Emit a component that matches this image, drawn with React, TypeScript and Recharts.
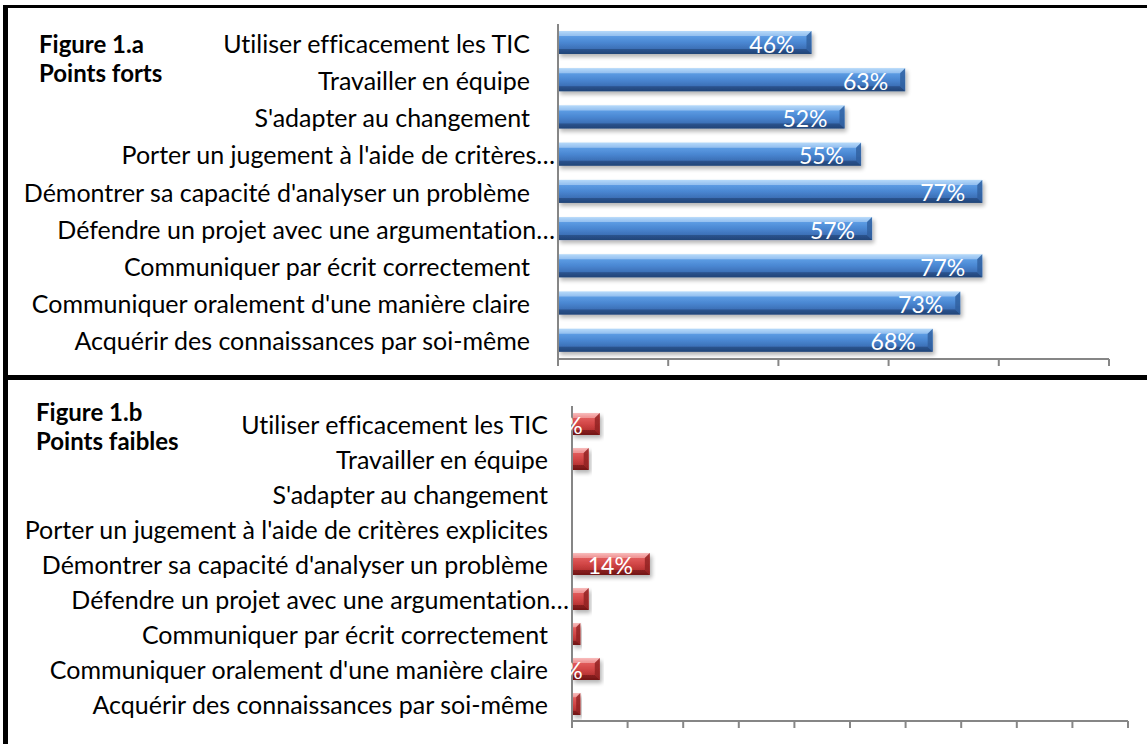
import React from "react";
import { BarChart, Bar, XAxis, YAxis, LabelList } from "recharts";

const topLabels = [
  "Utiliser efficacement les TIC",
  "Travailler en équipe",
  "S'adapter au changement",
  "Porter un jugement à l'aide de critères…",
  "Démontrer sa capacité d'analyser un problème",
  "Défendre un projet avec une argumentation…",
  "Communiquer par écrit correctement",
  "Communiquer oralement d'une manière claire",
  "Acquérir des connaissances par soi-même",
];
const bottomLabels = [
  "Utiliser efficacement les TIC",
  "Travailler en équipe",
  "S'adapter au changement",
  "Porter un jugement à l'aide de critères explicites",
  "Démontrer sa capacité d'analyser un problème",
  "Défendre un projet avec une argumentation…",
  "Communiquer par écrit correctement",
  "Communiquer oralement d'une manière claire",
  "Acquérir des connaissances par soi-même",
];
const strengths = [46, 63, 52, 55, 77, 57, 77, 73, 68];
const weaknesses = [5, 3, 0, 0, 14, 3, 1.5, 5, 1.5];
const topTicks = [0, 20, 40, 60, 80, 100];
const bottomTicks = [0, 10, 20, 30, 40, 50, 60, 70, 80, 90, 100];

const topData = topLabels.map((name, i) => ({ name, value: strengths[i] }));
const bottomData = bottomLabels.map((name, i) => ({ name, value: weaknesses[i] }));

const FONT = "Lato, 'Open Sans', sans-serif";
const AXIS = "#868686";
const noLig: React.CSSProperties = { fontVariantLigatures: "none", fontFeatureSettings: '"liga" 0' };

const makeTick = (gap: number) => (props: any) => {
  const { x, y, payload } = props;
  const v: string = payload.value;
  const g = v.endsWith("…") ? 3 : gap;
  return (
    <text x={x - g} y={y} textAnchor="end" dominantBaseline="central" fontFamily={FONT} fontSize={25} fill="#000" style={noLig}>
      {v}
    </text>
  );
};

const BevelBar = (props: any) => {
  const { x, y, width, height, grad, side, top, bottom, filter } = props;
  if (!width || width <= 0) return null;
  const b = Math.min(5, width / 2, height / 4);
  const w = width;
  const h = height;
  return (
    <g filter={`url(#${filter})`}>
      <rect x={x} y={y} width={w} height={h} fill={`url(#${grad})`} />
      <polygon points={`${x},${y} ${x + w},${y} ${x + w - b},${y + b} ${x},${y + b}`} fill={top} opacity={0.5} />
      <polygon points={`${x},${y + h} ${x + w},${y + h} ${x + w - b},${y + h - b} ${x},${y + h - b}`} fill={bottom} opacity={0.55} />
      <polygon points={`${x + w - b},${y + b} ${x + w},${y} ${x + w},${y + h} ${x + w - b},${y + h - b}`} fill={side} opacity={0.8} />
    </g>
  );
};

const makeLabel = (prefix: string) => (props: any) => {
  const { x, y, width, height, value, index } = props;
  if (!value) return null;
  const endX = x + width - 17;
  const clipX = x - 3;
  if (endX <= clipX + 1) return null;
  const id = `${prefix}-clip-${index}`;
  return (
    <g>
      <defs>
        <clipPath id={id}>
          <rect x={clipX} y={y - 5} width={width + 20} height={height + 10} />
        </clipPath>
      </defs>
      <text
        x={endX}
        y={y + height / 2 + 1}
        textAnchor="end"
        dominantBaseline="central"
        fill="#fff"
        fontFamily={FONT}
        fontSize={23}
        clipPath={`url(#${id})`}
      >
        {`${Math.round(value)}%`}
      </text>
    </g>
  );
};

const Defs = ({ id, stops }: { id: string; stops: string[] }) => (
  <defs>
    <linearGradient id={id} x1="0" y1="0" x2="0" y2="1">
      <stop offset="0%" stopColor={stops[0]} />
      <stop offset="18%" stopColor={stops[1]} />
      <stop offset="50%" stopColor={stops[2]} />
      <stop offset="82%" stopColor={stops[3]} />
      <stop offset="100%" stopColor={stops[4]} />
    </linearGradient>
    <filter id={`${id}-sh`} x="-10%" y="-40%" width="125%" height="200%">
      <feGaussianBlur in="SourceAlpha" stdDeviation="2.2" />
      <feOffset dx="2" dy="3" result="o" />
      <feComponentTransfer>
        <feFuncA type="linear" slope="0.3" />
      </feComponentTransfer>
      <feMerge>
        <feMergeNode />
        <feMergeNode in="SourceGraphic" />
      </feMerge>
    </filter>
  </defs>
);

const titleStyle: React.CSSProperties = {
  position: "absolute",
  fontFamily: FONT,
  fontWeight: 700,
  fontSize: 24,
  lineHeight: "29px",
  color: "#000",
  margin: 0,
};

export default function App() {
  return (
    <div style={{ position: "absolute", left: 0, top: 0, width: 1147, height: 744, background: "#fff", overflow: "hidden" }}>
      <div style={{ position: "absolute", left: 0, top: 0 }}>
        <BarChart
          width={1147}
          height={372}
          data={topData}
          layout="vertical"
          margin={{ top: 24, right: 38, bottom: 3, left: 0 }}
          barSize={23}
        >
          <Defs id="gblue" stops={["#9ccdf8", "#5f9fe6", "#4a87d2", "#3a6cb2", "#274f87"]} />
          <XAxis
            type="number"
            domain={[0, 100]}
            ticks={topTicks}
            interval={0}
            height={10}
            axisLine={{ stroke: AXIS, strokeWidth: 2 }}
            tickLine={{ stroke: AXIS, strokeWidth: 2 }}
            tickSize={7}
            tick={() => <g />}
          />
          <YAxis
            type="category"
            dataKey="name"
            width={558}
            axisLine={{ stroke: AXIS, strokeWidth: 2 }}
            tickLine={false}
            tickSize={0}
            tickMargin={0}
            interval={0}
            tick={makeTick(28)}
          />
          <Bar
            dataKey="value"
            isAnimationActive={false}
            shape={(p: any) => (
              <BevelBar {...p} grad="gblue" filter="gblue-sh" top="#cfe6fc" bottom="#1d3d6b" side="#2f5f9e" />
            )}
          >
            <LabelList dataKey="value" content={makeLabel("t")} />
          </Bar>
        </BarChart>
      </div>

      <div style={{ position: "absolute", left: 0, top: 380 }}>
        <BarChart
          width={1147}
          height={364}
          data={bottomData}
          layout="vertical"
          margin={{ top: 26, right: 19, bottom: 13, left: 0 }}
          barSize={22}
        >
          <Defs id="gred" stops={["#f6aaaa", "#e35f5f", "#d24646", "#b43131", "#8a1d1d"]} />
          <XAxis
            type="number"
            domain={[0, 100]}
            ticks={bottomTicks}
            interval={0}
            height={10}
            axisLine={{ stroke: AXIS, strokeWidth: 2 }}
            tickLine={{ stroke: AXIS, strokeWidth: 2 }}
            tickSize={7}
            tick={() => <g />}
          />
          <YAxis
            type="category"
            dataKey="name"
            width={572}
            axisLine={{ stroke: AXIS, strokeWidth: 2 }}
            tickLine={false}
            tickSize={0}
            tickMargin={0}
            interval={0}
            tick={makeTick(24)}
          />
          <Bar
            dataKey="value"
            isAnimationActive={false}
            shape={(p: any) => (
              <BevelBar {...p} grad="gred" filter="gred-sh" top="#fbd0d0" bottom="#5e1111" side="#8f2222" />
            )}
          >
            <LabelList dataKey="value" content={makeLabel("b")} />
          </Bar>
        </BarChart>
      </div>

      <div style={{ ...titleStyle, left: 39, top: 29 }}>Figure 1.a<br />Points forts</div>
      <div style={{ ...titleStyle, left: 36, top: 397 }}>Figure 1.b<br />Points faibles</div>

      <div style={{ position: "absolute", left: 3, top: 5, width: 1144, height: 3, background: "#000" }} />
      <div style={{ position: "absolute", left: 3, top: 5, width: 5, height: 739, background: "#000" }} />
      <div style={{ position: "absolute", left: 3, top: 375, width: 1144, height: 5, background: "#000" }} />
    </div>
  );
}
